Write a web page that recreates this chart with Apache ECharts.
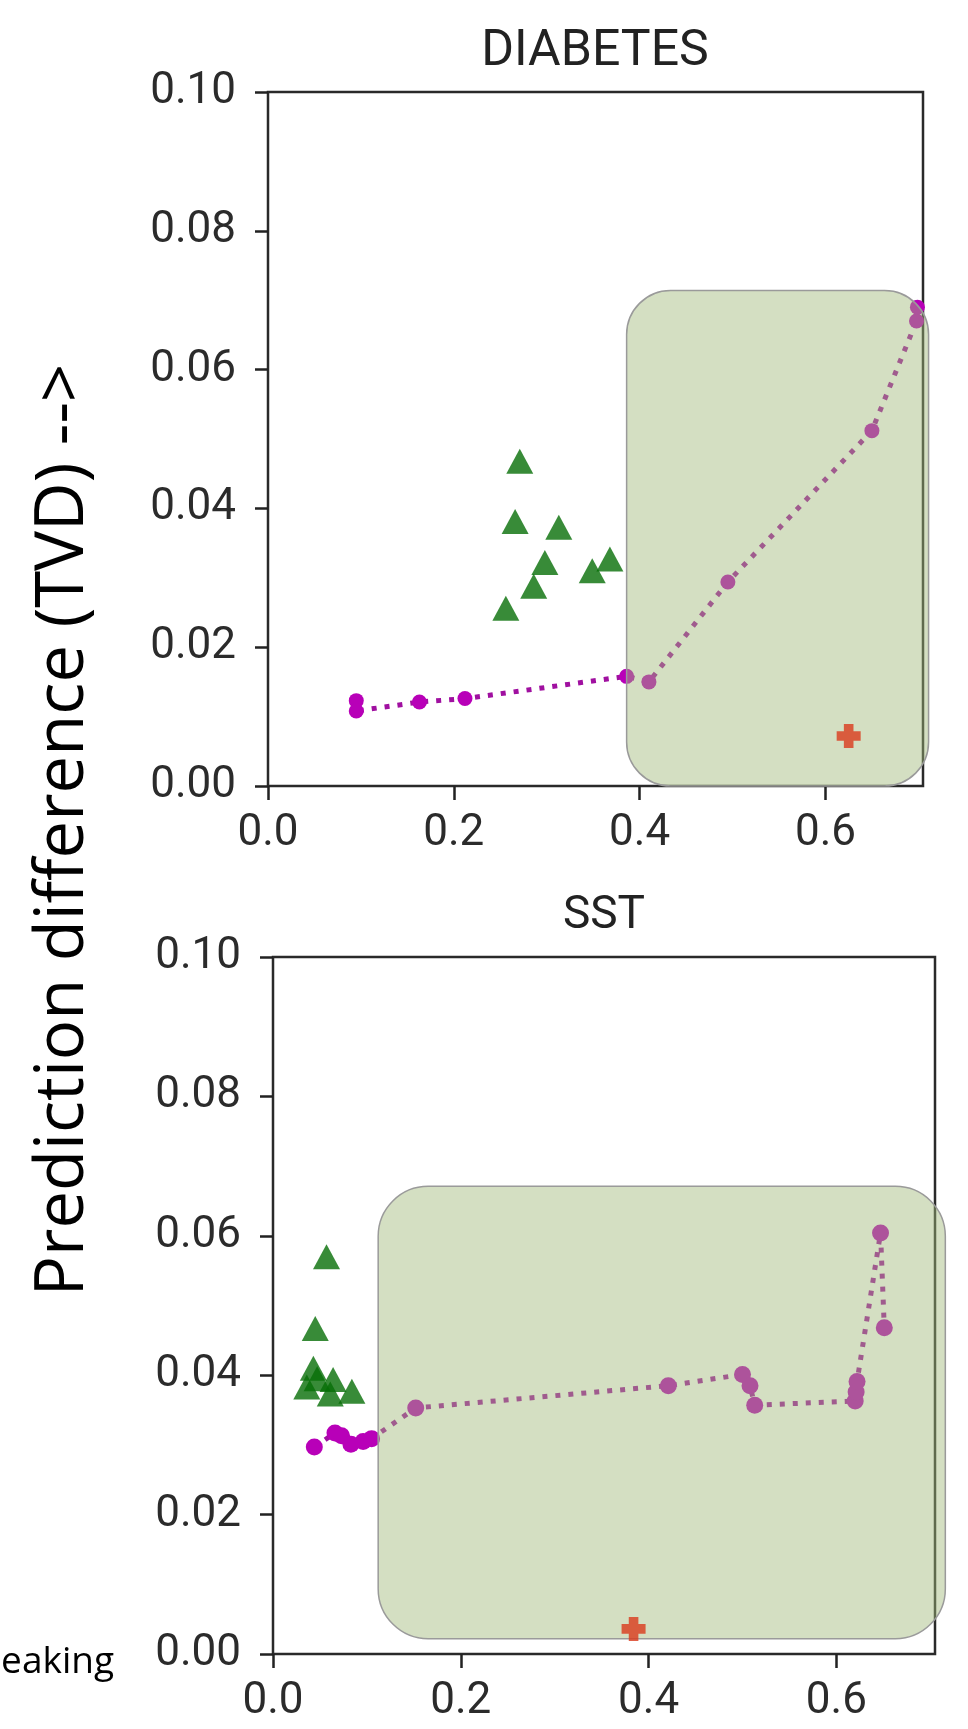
<!DOCTYPE html>
<html>
<head>
<meta charset="utf-8">
<script src="https://cdn.jsdelivr.net/npm/echarts@6/dist/echarts.min.js"></script>
<style>
  html, body { margin: 0; padding: 0; background: #fff; }
  #chart { width: 968px; height: 1729px; }
</style>
</head>
<body>
<div id="chart"></div>
<script>
// tick labels
const xTicks = [0, 0.2, 0.4, 0.6]
const yTicks = [0, 0.02, 0.04, 0.06, 0.08, 0.1]
const panelTitles = ['DIABETES', 'SST']

// DIABETES panel
const diabetesCurve = [
  [0.095, 0.0123], [0.095, 0.0108], [0.163, 0.0121], [0.212, 0.0126],
  [0.386, 0.0158], [0.41, 0.015], [0.495, 0.0294], [0.65, 0.0512],
  [0.698, 0.067], [0.699, 0.069]
]
const diabetesTriangles = [
  [0.271, 0.0468], [0.266, 0.0381], [0.313, 0.0373], [0.298, 0.0322],
  [0.286, 0.0288], [0.256, 0.0256], [0.349, 0.031], [0.368, 0.0327]
]
const diabetesCross = [[0.625, 0.0072]]
const diabetesBox = [0.386, 0.711, 0.0714, 0.0]   // x0, x1, y0, y1 in data units

// SST panel
const sstCurve = [
  [0.044, 0.0297], [0.066, 0.0317], [0.073, 0.0313], [0.083, 0.0301],
  [0.096, 0.0305], [0.105, 0.0309], [0.152, 0.0353], [0.421, 0.0385],
  [0.5, 0.0401], [0.508, 0.0385], [0.513, 0.0357], [0.62, 0.0363],
  [0.621, 0.0376], [0.622, 0.0391], [0.647, 0.0604], [0.651, 0.0468]
]
const sstTriangles = [
  [0.057, 0.057], [0.045, 0.0467], [0.043, 0.041], [0.036, 0.0383],
  [0.047, 0.0395], [0.064, 0.0394], [0.061, 0.0373], [0.084, 0.0377]
]
const sstCross = [[0.384, 0.0036]]
const sstBox = [0.112, 0.716, 0.0671, 0.0022]

const xMax = 0.705

const chart = echarts.init(document.getElementById('chart'))

const tickFont = {
  color: '#2b2b2b',
  fontFamily: 'Roboto',
  fontSize: 44
}

const makeX = (gridIndex) => ({
  type: 'value',
  gridIndex,
  min: 0,
  max: xMax,
  axisLine: { show: false },
  axisTick: {
    show: true,
    length: 14,
    customValues: xTicks,
    lineStyle: { color: '#222', width: 2.5 }
  },
  axisLabel: {
    ...tickFont,
    margin: 26,
    customValues: xTicks,
    formatter: (v) => v.toFixed(1)
  },
  splitLine: { show: false }
})

const makeY = (gridIndex) => ({
  type: 'value',
  gridIndex,
  min: 0,
  max: 0.1,
  interval: 0.02,
  axisLine: { show: false },
  axisTick: {
    show: true,
    length: 13,
    customValues: yTicks,
    lineStyle: { color: '#222', width: 2.5 }
  },
  axisLabel: {
    ...tickFont,
    margin: 32,
    customValues: yTicks,
    formatter: (v) => v.toFixed(2)
  },
  splitLine: { show: false }
})

const makeSeries = (idx, curve, triangles, cross, dotSize) => [
  {
    type: 'line',
    xAxisIndex: idx,
    yAxisIndex: idx,
    data: curve,
    symbol: 'circle',
    symbolSize: dotSize,
    showSymbol: true,
    itemStyle: { color: '#b800b8' },
    lineStyle: { color: '#a010a0', width: 5, type: [5, 8] },
    animation: false,
    z: 2
  },
  {
    type: 'scatter',
    xAxisIndex: idx,
    yAxisIndex: idx,
    data: triangles,
    symbol: 'triangle',
    symbolSize: [27, 25],
    itemStyle: { color: '#066e06' },
    animation: false,
    z: 3
  },
  {
    // the cross sits on top of the shaded box
    type: 'scatter',
    xAxisIndex: idx,
    yAxisIndex: idx,
    data: cross,
    symbol: 'path://M3,0H7V3H10V7H7V10H3V7H0V3H3Z',
    symbolSize: 24,
    itemStyle: { color: '#d93a1c' },
    animation: false,
    z: 150
  }
]

chart.setOption({
  backgroundColor: '#fff',
  animation: false,
  grid: [
    { left: 268, top: 92, width: 655, height: 694, show: true, borderColor: '#2a2a2a', borderWidth: 2.5, backgroundColor: 'transparent' },
    { left: 273, top: 957, width: 662, height: 697, show: true, borderColor: '#2a2a2a', borderWidth: 2.5, backgroundColor: 'transparent' }
  ],
  xAxis: [makeX(0), makeX(1)],
  yAxis: [makeY(0), makeY(1)],
  series: [
    ...makeSeries(0, diabetesCurve, diabetesTriangles, diabetesCross, 15),
    ...makeSeries(1, sstCurve, sstTriangles, sstCross, 17)
  ]
})

// overlays and texts
const boxRect = (gridIndex, box, radius) => {
  const p0 = chart.convertToPixel({ gridIndex }, [box[0], box[2]])
  const p1 = chart.convertToPixel({ gridIndex }, [box[1], box[3]])
  return {
    type: 'rect',
    z: 100,
    shape: { x: p0[0], y: p0[1], width: p1[0] - p0[0], height: p1[1] - p0[1], r: radius },
    style: { fill: 'rgba(160,185,120,0.45)', stroke: '#9a9a9a', lineWidth: 1.5 }
  }
}

chart.setOption({
  graphic: [
    boxRect(0, diabetesBox, 44),
    boxRect(1, sstBox, 50),
    {
      type: 'text', x: 595, y: 52, z: 101,
      style: { text: panelTitles[0], font: '50px Roboto', fill: '#222', align: 'center', verticalAlign: 'middle' }
    },
    {
      type: 'text', x: 604, y: 916, z: 101,
      style: { text: panelTitles[1], font: '46px Roboto', fill: '#222', align: 'center', verticalAlign: 'middle' }
    },
    {
      type: 'text', x: 64, y: 830, rotation: Math.PI / 2, z: 101,
      style: { text: 'Prediction difference (TVD) -->', font: '67px "Open Sans"', fill: '#000', align: 'center', verticalAlign: 'middle' }
    },
    {
      type: 'text', x: 114, y: 1662, z: 101,
      style: { text: 'eaking', font: '37px "Open Sans"', fill: '#000', align: 'right', verticalAlign: 'middle' }
    }
  ]
})
</script>
</body>
</html>
